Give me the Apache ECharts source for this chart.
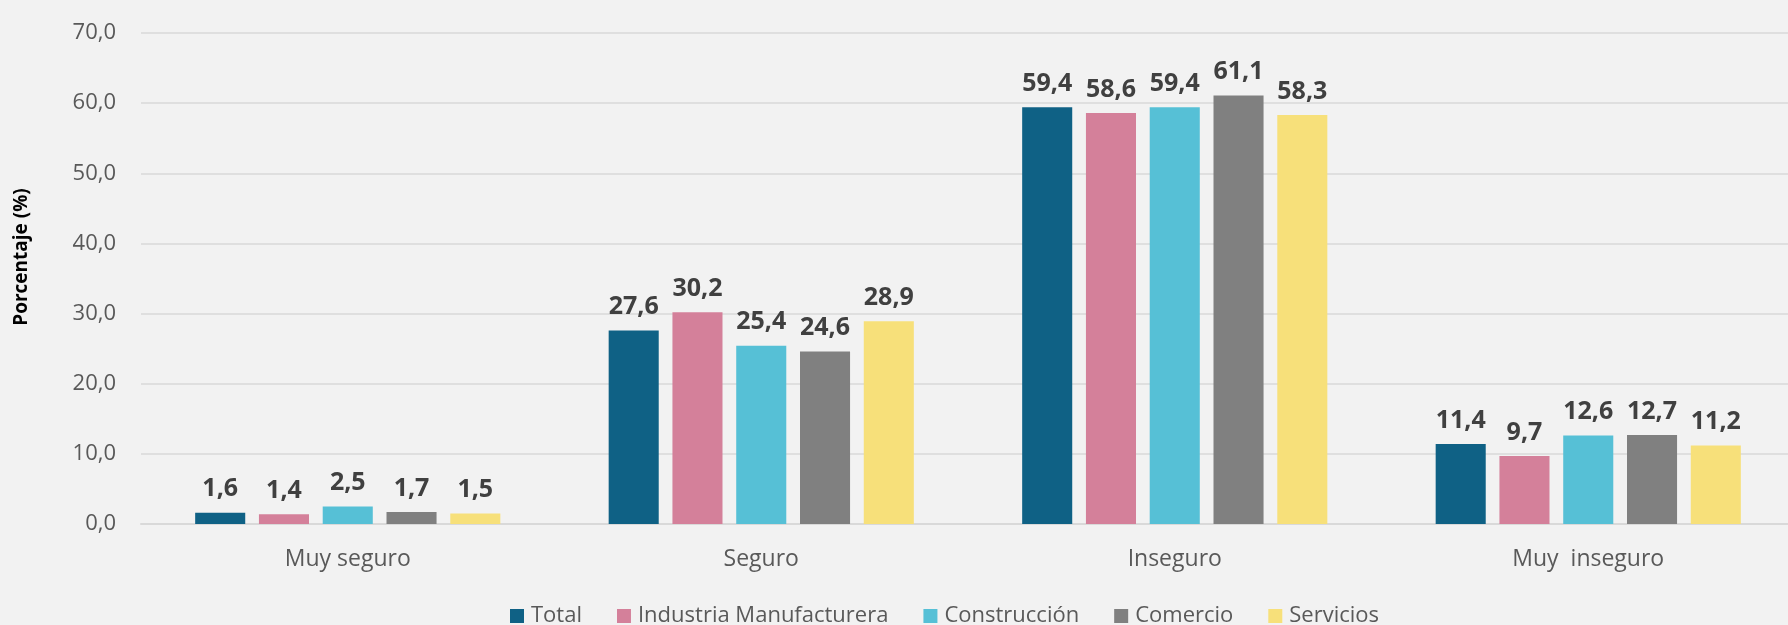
<!DOCTYPE html>
<html>
<head>
<meta charset="utf-8">
<script src="https://cdn.jsdelivr.net/npm/echarts@6/dist/echarts.min.js"></script>
<style>
html,body{margin:0;padding:0;background:#f2f2f2;}
#chart{width:1788px;height:625px;}
</style>
</head>
<body>
<div id="chart"></div>
<script>
const categories = ['Muy seguro', 'Seguro', 'Inseguro', 'Muy  inseguro'];
const seriesNames = ['Total', 'Industria Manufacturera', 'Construcción', 'Comercio', 'Servicios'];
const total = [1.6, 27.6, 59.4, 11.4];
const industria = [1.4, 30.2, 58.6, 9.7];
const construccion = [2.5, 25.4, 59.4, 12.6];
const comercio = [1.7, 24.6, 61.1, 12.7];
const servicios = [1.5, 28.9, 58.3, 11.2];
const colors = ['#0F6185', '#D4809A', '#56C0D6', '#808080', '#F7E07A'];
const yTicks = { min: 0, max: 70, interval: 10 };

const seriesData = [total, industria, construccion, comercio, servicios];
const fmt = v => Number(v).toFixed(1).replace('.', ',');
const FONT = '"Open Sans", "Noto Sans", sans-serif';

const chart = echarts.init(document.getElementById('chart'));
chart.setOption({
  backgroundColor: '#f2f2f2',
  animation: false,
  color: colors,
  grid: { left: 141, top: 33, height: 491, width: 1654, containLabel: false, outerBoundsMode: 'none' },
  legend: {
    data: seriesNames,
    left: 505,
    top: 600,
    itemWidth: 14,
    itemHeight: 14,
    itemGap: 35,
    icon: 'rect',
    textStyle: { fontFamily: FONT, fontSize: 22, color: '#595959', padding: [0, 0, 0, 2] }
  },
  xAxis: {
    type: 'category',
    data: categories,
    axisLine: { show: true, lineStyle: { color: '#d9d9d9', width: 2 } },
    axisTick: { show: false },
    axisLabel: { fontFamily: FONT, fontSize: 23, color: '#595959', margin: 24 }
  },
  yAxis: {
    type: 'value',
    min: yTicks.min,
    max: yTicks.max,
    interval: yTicks.interval,
    axisLine: { show: false },
    axisTick: { show: false },
    splitLine: { lineStyle: { color: '#d9d9d9', width: 1.5 } },
    axisLabel: { fontFamily: FONT, fontSize: 22, color: '#595959', margin: 25, formatter: fmt }
  },
  graphic: [{
    type: 'text',
    x: 22, y: 257,
    rotation: Math.PI / 2,
    style: {
      text: 'Porcentaje (%)',
      font: 'bold 19px ' + FONT,
      fill: '#000000',
      align: 'center',
      verticalAlign: 'middle'
    }
  }],
  series: seriesNames.map((name, i) => ({
    name: name,
    type: 'bar',
    data: seriesData[i],
    barGap: '27.4%',
    barCategoryGap: '26.2%',
    itemStyle: { color: colors[i] },
    label: {
      show: true,
      position: 'top',
      distance: 11,
      fontFamily: FONT,
      fontSize: 25,
      fontWeight: 'bold',
      color: '#404040',
      formatter: p => fmt(p.value)
    }
  }))
});
</script>
</body>
</html>
